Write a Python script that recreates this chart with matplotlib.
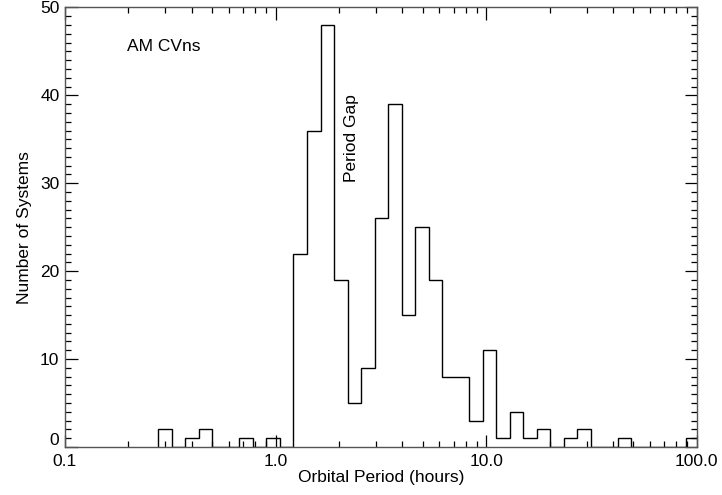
"""
Orbital period histogram of CVs (log period bins), IDL-style axes.
"""

import numpy as np
import matplotlib
matplotlib.use("Agg")
import matplotlib.pyplot as plt
import matplotlib.transforms as mtransforms
from matplotlib.ticker import FixedLocator, MultipleLocator, LogLocator, NullFormatter

plt.rcParams["font.family"] = ["Liberation Sans", "DejaVu Sans"]

FS = 12.5

BIN_LO_LOG = -0.557
BIN_DEX    = 0.0642

# number of systems per bin, left to right
counts = [2, 0, 1, 2, 0, 0, 1, 0, 1, 0,
          22, 36, 48, 19, 5, 9, 26, 39, 15, 25,
          19, 8, 8, 3, 11, 1, 4, 1, 2, 0,
          1, 2, 0, 0, 1, 0, 0, 0, 0, 1]

x_ticks  = [0.1, 1.0, 10.0, 100.0]
x_labels = ["0.1", "1.0", "10.0", "100.0"]
y_ticks  = [0, 10, 20, 30, 40, 50]

edges = 10 ** (BIN_LO_LOG + BIN_DEX * np.arange(len(counts) + 1))

fig = plt.figure(figsize=(7.22, 4.95), dpi=100)
ax = fig.add_axes([0.090, 0.097, 0.875, 0.888])

ax.stairs(counts, edges, color="black", linewidth=1.0, baseline=0)

ax.set_xscale("log")
ax.set_xlim(0.1, 100)
ax.set_ylim(0, 50)

ax.xaxis.set_major_locator(FixedLocator(x_ticks))
ax.set_xticklabels(x_labels)
ax.xaxis.set_minor_locator(LogLocator(base=10, subs=np.arange(2, 10)))
ax.xaxis.set_minor_formatter(NullFormatter())
ax.yaxis.set_major_locator(FixedLocator(y_ticks))
ax.yaxis.set_minor_locator(MultipleLocator(1))

ax.tick_params(which="both", direction="in", top=True, right=True,
               labelsize=FS, width=0.9, color="black")
ax.tick_params(which="major", length=9, pad=4)
ax.tick_params(axis="x", which="major", pad=5)
ax.tick_params(which="minor", length=4.5)
for sp in ax.spines.values():
    sp.set_linewidth(1.0)
    sp.set_color("#555555")

# nudge the "0" label up a little so it clears "0.1" (as in the original)
fig.canvas.draw()
lab0 = ax.yaxis.get_majorticklabels()[0]
lab0.set_transform(lab0.get_transform() +
                   mtransforms.ScaledTranslation(0, 6 / 72, fig.dpi_scale_trans))

ax.set_xlabel("Orbital Period (hours)", fontsize=FS, labelpad=1)
ax.set_ylabel("Number of Systems", fontsize=FS, labelpad=6)

ax.text(0.197, 45.6, "AM CVns", fontsize=FS, ha="left", va="center")
ax.text(2.3, 35.1, "Period Gap", fontsize=FS, rotation=90,
        ha="center", va="center")

fig.savefig("out.png", dpi=100)
